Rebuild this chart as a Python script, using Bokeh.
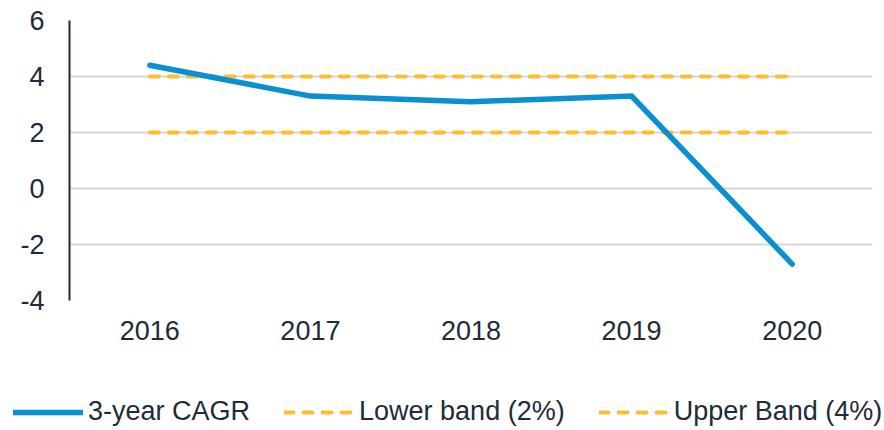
from bokeh.plotting import figure
from bokeh.layouts import column
from bokeh.models import ColumnDataSource, FactorRange, Range1d, Legend, LegendItem, FixedTicker
from bokeh.embed import file_html
from bokeh.resources import INLINE

years = ["2016", "2017", "2018", "2019", "2020"]
cagr = [4.4, 3.3, 3.1, 3.3, -2.7]
lower_band = [2, 2, 2, 2, 2]
upper_band = [4, 4, 4, 4, 4]
y_ticks = [-4, -2, 0, 2, 4, 6]
series_labels = ["3-year CAGR", "Lower band (2%)", "Upper Band (4%)"]

TEXT = "#1e2b38"
FONT = "Liberation Sans"
BLUE = "#0a8fd3"
ORANGE = "#f9bf2e"

src = ColumnDataSource(dict(year=years, cagr=cagr, lower=lower_band, upper=upper_band))

p = figure(width=884, height=380, x_range=FactorRange(factors=years),
           y_range=Range1d(-4, 6), output_backend="svg", toolbar_location=None,
           min_border_left=69, min_border_right=12, min_border_top=20, min_border_bottom=80)
p.frame_align = False
p.outline_line_color = None
p.background_fill_color = "white"
p.border_fill_color = "white"

p.xgrid.grid_line_color = None
p.ygrid.grid_line_color = "#d6d6d6"
p.ygrid.grid_line_width = 2

p.yaxis.ticker = FixedTicker(ticks=y_ticks)
p.yaxis.major_label_overrides = {-4: "-4", -2: "-2"}
p.yaxis.axis_line_color = TEXT
p.yaxis.axis_line_width = 2
p.yaxis.major_tick_line_color = None
p.yaxis.minor_tick_line_color = None
p.yaxis.major_tick_out = 0
p.yaxis.major_tick_in = 0
p.yaxis.major_label_standoff = 25
p.yaxis.major_label_text_font = FONT
p.yaxis.major_label_text_font_size = "27px"
p.yaxis.major_label_text_color = TEXT

p.xaxis.axis_line_color = None
p.xaxis.major_tick_line_color = None
p.xaxis.major_tick_out = 0
p.xaxis.major_tick_in = 0
p.xaxis.major_label_standoff = 20
p.xaxis.major_label_text_font = FONT
p.xaxis.major_label_text_font_size = "27px"
p.xaxis.major_label_text_color = TEXT

line_styles = dict(
    cagr=dict(line_color=BLUE, line_width=5.5, line_cap="round"),
    band=dict(line_color=ORANGE, line_width=4, line_dash="9 10", line_cap="round"),
)

p.line("year", "lower", source=src, **line_styles["band"])
p.line("year", "upper", source=src, **line_styles["band"])
p.line("year", "cagr", source=src, line_join="miter", **line_styles["cagr"])

# legend strip below the chart (its series lie outside the visible y range)
lg = figure(width=884, height=50, x_range=FactorRange(factors=years), y_range=Range1d(100, 101),
            output_backend="svg", toolbar_location=None,
            x_axis_location=None, y_axis_location=None,
            min_border_left=0, min_border_right=0, min_border_top=0, min_border_bottom=0)
lg.frame_align = False
lg.outline_line_color = None
lg.grid.grid_line_color = None
l1 = lg.line("year", "cagr", source=src, **line_styles["cagr"])
l2 = lg.line("year", "lower", source=src, **line_styles["band"])
l3 = lg.line("year", "upper", source=src, **line_styles["band"])

legend = Legend(items=[LegendItem(label=series_labels[0], renderers=[l1]),
                       LegendItem(label=series_labels[1], renderers=[l2]),
                       LegendItem(label=series_labels[2], renderers=[l3])],
                orientation="horizontal", location=(13, 3),
                glyph_width=70, glyph_height=30, label_height=30,
                label_standoff=5, spacing=34, padding=0, margin=0,
                border_line_color=None, background_fill_alpha=0,
                label_text_font=FONT, label_text_font_size="27px",
                label_text_color=TEXT)
lg.add_layout(legend, "center")

layout = column(p, lg, spacing=0)
open("out.html", "w").write(file_html(layout, INLINE))
